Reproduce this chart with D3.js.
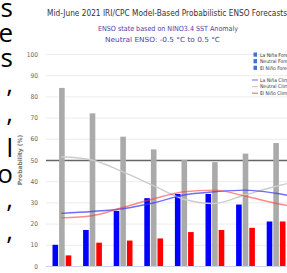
<!DOCTYPE html>
<html lang="en">
<head>
<meta charset="UTF-8">
<title>ENSO Forecast</title>
<script src="https://d3js.org/d3.v7.min.js"></script>
<style>
  body { margin: 0; background: #fff; overflow: hidden; }
  svg { display: block; }
</style>
</head>
<body>
<div id="chart"></div>
<script>
  const seasons = ["JJA", "JAS", "ASO", "SON", "OND", "NDJ", "DJF", "JFM", "FMA"];
  const laNinaForecast = [10, 17, 26, 32, 34, 34, 29, 21];
  const neutralForecast = [84, 72, 61, 55, 50, 49, 53, 58];
  const elNinoForecast = [5, 11, 12, 13, 16, 17, 18, 21];
  const laNinaClim = [24.8, 25.7, 27, 29.7, 33.5, 35, 35.8, 34.3, 31.5];
  const neutralClim = [51.5, 50, 44.5, 38, 31.5, 29.5, 33.5, 37.5, 41];
  const elNinoClim = [22.7, 23.7, 27.6, 31.6, 35, 35.8, 33, 29.6, 27];
  const yTicks = [0, 10, 20, 30, 40, 50, 60, 70, 80, 90, 100];
  const sideText = ["s", "e", "s", ",", ",", "l", "o", ",", ","];

  const width = 287, height = 273;
  const plotLeft = 46, plotTop = 54, plotBottom = 266;

  const svg = d3.select("#chart").append("svg")
    .attr("width", width)
    .attr("height", height);

  // cropped page text on the left
  const sideY = [17, 42, 67, 93, 122, 157, 183, 208, 240];
  svg.append("g").selectAll("text")
    .data(sideText)
    .join("text")
    .attr("x", 13)
    .attr("y", (d, i) => sideY[i])
    .attr("text-anchor", "end")
    .style("font-family", "'Open Sans', sans-serif")
    .style("font-size", "26px")
    .style("fill", "#000")
    .text(d => d);

  const x = d3.scaleBand()
    .domain(seasons)
    .range([plotLeft, plotLeft + seasons.length * 30.6]);

  const y = d3.scaleLinear()
    .domain([0, 100])
    .range([plotBottom, plotTop]);

  const types = ["La Niña", "Neutral", "El Niño"];
  const colors = { "La Niña": "#0000ff", "Neutral": "#aaaaaa", "El Niño": "#ff0000" };
  const sub = d3.scaleBand().domain(types).range([6.5, 25.3]).paddingInner(0.15);

  // grid
  svg.append("g")
    .attr("transform", `translate(${plotLeft},0)`)
    .call(d3.axisLeft(y).tickValues(yTicks.filter(t => t > 0)).tickSize(-(width - plotLeft)).tickFormat(""))
    .call(g => g.select(".domain").remove())
    .call(g => g.selectAll("line").attr("stroke", d => d === 50 ? "#666" : "#ececec").attr("stroke-width", d => d === 50 ? 1.5 : 1));

  // y labels
  svg.append("g")
    .attr("transform", "translate(38,0)")
    .call(d3.axisLeft(y).tickValues(yTicks).tickSize(0).tickPadding(0))
    .call(g => g.select(".domain").remove())
    .call(g => g.selectAll("text")
      .style("font-family", "'Liberation Sans Narrow', 'DejaVu Sans Condensed', sans-serif")
      .style("font-size", "6.5px")
      .attr("fill", "#666"));

  // bottom axis line
  svg.append("line")
    .attr("x1", plotLeft).attr("x2", width)
    .attr("y1", plotBottom + 0.5).attr("y2", plotBottom + 0.5)
    .attr("stroke", "#ccd6eb");

  // y title
  svg.append("text")
    .attr("transform", `translate(22,${(plotTop + plotBottom) / 2}) rotate(-90)`)
    .attr("text-anchor", "middle")
    .style("font-family", "'DejaVu Sans', sans-serif")
    .style("font-size", "6px")
    .style("font-weight", "bold")
    .attr("fill", "#777")
    .text("Probability (%)");

  // bars
  const series = [
    { key: "La Niña", values: laNinaForecast },
    { key: "Neutral", values: neutralForecast },
    { key: "El Niño", values: elNinoForecast }
  ];
  series.forEach(s => {
    svg.append("g").selectAll("rect")
      .data(s.values)
      .join("rect")
      .attr("x", (d, i) => x(seasons[i]) + sub(s.key))
      .attr("y", d => y(d))
      .attr("width", sub.bandwidth())
      .attr("height", d => plotBottom - y(d))
      .attr("fill", colors[s.key]);
  });

  // climatology lines
  const line = d3.line()
    .x((d, i) => x(seasons[i]) + x.bandwidth() / 2)
    .y(d => y(d))
    .curve(d3.curveMonotoneX);

  [
    { values: neutralClim, color: "#cccccc" },
    { values: laNinaClim, color: "rgba(60,60,255,0.75)" },
    { values: elNinoClim, color: "rgba(255,60,60,0.6)" }
  ].forEach(c => {
    svg.append("path")
      .datum(c.values)
      .attr("d", line)
      .attr("fill", "none")
      .attr("stroke", c.color)
      .attr("stroke-width", 1.4);
  });

  // titles
  svg.append("text")
    .attr("x", 47).attr("y", 16)
    .attr("textLength", 240)
    .attr("lengthAdjust", "spacingAndGlyphs")
    .style("font-family", "'Liberation Sans Narrow', 'DejaVu Sans Condensed', sans-serif")
    .style("font-size", "9.5px")
    .attr("fill", "#333")
    .text("Mid-June 2021 IRI/CPC Model-Based Probabilistic ENSO Forecasts");

  svg.append("text")
    .attr("x", 98).attr("y", 31)
    .attr("textLength", 140)
    .attr("lengthAdjust", "spacingAndGlyphs")
    .style("font-family", "'Liberation Sans Narrow', 'DejaVu Sans Condensed', sans-serif")
    .style("font-size", "7px")
    .attr("fill", "#4b3f9f")
    .text("ENSO state based on NINO3.4 SST Anomaly");

  svg.append("text")
    .attr("x", 105).attr("y", 42)
    .attr("textLength", 115)
    .attr("lengthAdjust", "spacingAndGlyphs")
    .style("font-family", "'Liberation Sans Narrow', 'DejaVu Sans Condensed', sans-serif")
    .style("font-size", "7px")
    .attr("fill", "#4b3f9f")
    .text("Neutral ENSO: -0.5 °C to 0.5 °C");

  // legend
  const barLegend = ["La Niña Forecast", "Neutral Forecast", "El Niño Forecast"];
  const lineLegend = ["La Niña Climatology", "Neutral Climatology", "El Niño Climatology"];
  const lineColors = ["#8080ff", "#cccccc", "#ff7070"];
  const lg = svg.append("g")
    .style("font-family", "'Liberation Sans Narrow', 'DejaVu Sans Condensed', sans-serif")
    .style("font-size", "5px");

  barLegend.forEach((t, i) => {
    lg.append("rect")
      .attr("x", 253.5).attr("y", 52.5 + i * 6.6)
      .attr("width", 3.5).attr("height", 4.2)
      .attr("fill", "#3f6fd8");
    lg.append("text")
      .attr("x", 260).attr("y", 56.5 + i * 6.6)
      .attr("fill", "#333").text(t);
  });
  lineLegend.forEach((t, i) => {
    lg.append("line")
      .attr("x1", 252).attr("x2", 258)
      .attr("y1", 80 + i * 6.6).attr("y2", 80 + i * 6.6)
      .attr("stroke", lineColors[i]).attr("stroke-width", 1.2);
    lg.append("text")
      .attr("x", 260).attr("y", 81.8 + i * 6.6)
      .attr("fill", "#333").text(t);
  });
</script>
</body>
</html>
